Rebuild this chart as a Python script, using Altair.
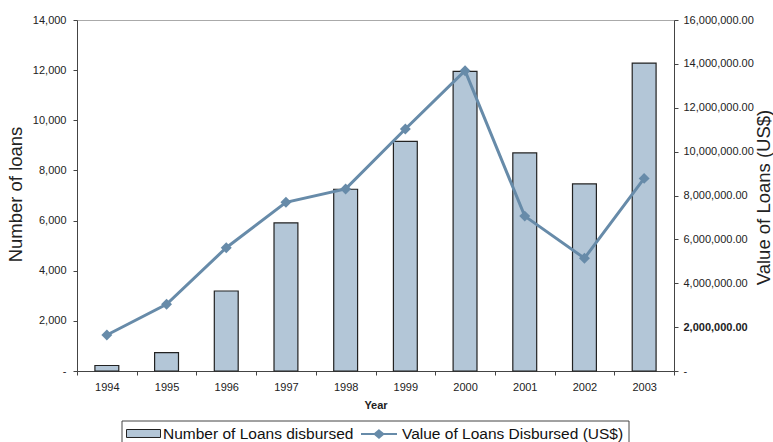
import altair as alt
import pandas as pd

years = ["1994", "1995", "1996", "1997", "1998", "1999", "2000", "2001", "2002", "2003"]
loans = [220, 730, 3190, 5910, 7250, 9160, 11950, 8700, 7460, 12280]
values = [1640000, 3040000, 5620000, 7690000, 8300000, 11030000, 13690000, 7060000, 5140000, 8780000]

bar_name = "Number of Loans disbursed"
line_name = "Value of Loans Disbursed (US$)"

df = pd.DataFrame({
    "year": years,
    "loans": loans,
    "value": values,
    "bar_series": [bar_name] * len(years),
    "line_series": [line_name] * len(years),
})

FONT = "Liberation Sans"
BAR_FILL = "#b3c6d7"
LINE_COL = "#678ba9"
TXT = "#222222"

x_enc = alt.X(
    "year:N",
    scale=alt.Scale(paddingInner=0, paddingOuter=0),
    axis=alt.Axis(
        title="Year", titleFontWeight="bold", titleFontSize=11, titleColor=TXT,
        titleY=34, titleBaseline="middle",
        labelAngle=0, labelFontSize=11, labelColor=TXT, labelPadding=6,
        tickBand="extent", tickSize=4, tickColor="#444", domainColor="#444",
        grid=False,
    ),
)

bars = alt.Chart(df).mark_bar(
    width=alt.RelativeBandSize(0.4), stroke="#222222", strokeWidth=1.2
).encode(
    x=x_enc,
    y=alt.Y(
        "loans:Q",
        scale=alt.Scale(domain=[0, 14000], nice=False),
        axis=alt.Axis(
            title="Number of loans", titleFontSize=18.5, titleFontWeight="normal",
            titleColor=TXT, titleAngle=270, titleX=-62, titleY=174,
            titleAlign="center", titleBaseline="middle",
            values=[0, 2000, 4000, 6000, 8000, 10000, 12000, 14000],
            labelExpr="datum.value == 0 ? '-' : format(datum.value, ',')",
            labelFontSize=11, labelColor=TXT, labelPadding=7,
            tickSize=4, tickColor="#444", domainColor="#444", grid=False,
        ),
    ),
    fill=alt.Fill(
        "bar_series:N",
        scale=alt.Scale(domain=[bar_name], range=[BAR_FILL]),
        legend=alt.Legend(
            orient="none", legendX=49, legendY=396, title=None, padding=0,
            symbolType="M-1,-0.235H1V0.235H-1Z", symbolSize=1156,
            symbolStrokeColor="#222222", symbolStrokeWidth=1,
            labelFont=FONT, labelFontSize=15.5, labelColor="#111111",
            labelOffset=2, labelLimit=400,
        ),
    ),
)

right_base = alt.Chart(df).encode(
    x=alt.X("year:N"),
    y=alt.Y(
        "value:Q",
        scale=alt.Scale(domain=[0, 16000000], nice=False),
        axis=alt.Axis(
            orient="right",
            title="Value of Loans (US$)", titleFontSize=18.5, titleFontWeight="normal",
            titleColor=TXT, titleAngle=270, titleX=89, titleY=177,
            titleAlign="center", titleBaseline="middle",
            values=[0, 2000000, 4000000, 6000000, 8000000, 10000000, 12000000, 14000000, 16000000],
            labelExpr="datum.value == 0 ? '-' : format(datum.value, ',.2f')",
            labelFontWeight={"condition": {"test": "datum.value == 2000000", "value": "bold"}, "value": "normal"},
            labelFontSize=11, labelColor=TXT, labelPadding=5,
            tickSize=4, tickColor="#444", domainColor="#444", grid=False,
        ),
    ),
)

line = right_base.mark_line(color=LINE_COL, strokeWidth=3)

points = right_base.mark_point(shape="diamond", filled=True, size=120, opacity=1).encode(
    color=alt.Color(
        "line_series:N",
        scale=alt.Scale(domain=[line_name], range=[LINE_COL]),
        legend=alt.Legend(
            orient="none", legendX=283, legendY=395, title=None, padding=0,
            symbolType="M-1,0H1M0,-0.2L0.24,0L0,0.2L-0.24,0Z", symbolSize=1296,
            symbolStrokeWidth=2, symbolFillColor=LINE_COL, symbolStrokeColor=LINE_COL,
            labelFont=FONT, labelFontSize=15.5, labelColor="#111111",
            labelOffset=4, labelLimit=400,
        ),
    ),
)

box_df = pd.DataFrame({"k": [0]})
legend_box = alt.Chart(box_df).mark_rect(
    fill=None, stroke="#444444", strokeWidth=1
).encode(
    x=alt.value(45), x2=alt.value(552), y=alt.value(401), y2=alt.value(430)
)

right = alt.layer(line, points)

chart = alt.layer(bars, right, legend_box).resolve_scale(
    y="independent"
).properties(
    width=597, height=351,
    autosize=alt.AutoSizeParams(type="none"),
    padding={"left": 77, "top": 20, "right": 99, "bottom": 71},
    background="white",
).configure(
    font=FONT,
).configure_view(
    stroke="#aaaaaa", strokeWidth=1,
)

chart.save("out.html", embed_options={"renderer": "svg", "actions": False})
